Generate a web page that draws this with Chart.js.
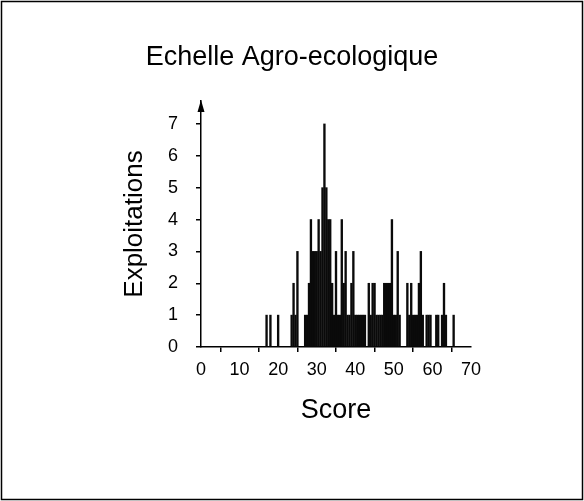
<!DOCTYPE html>
<html>
<head>
<meta charset="utf-8">
<script src="https://cdn.jsdelivr.net/npm/chart.js@4/dist/chart.umd.min.js"></script>
<style>
	body { margin: 0; background: #fff; }
	canvas { display: block; }
</style>
</head>
<body>
<canvas id="chart" width="584" height="501"></canvas>
<script>
//======================================================================================================
// Data: score (x) and number of farms (y)
//======================================================================================================
var scores = [17, 18, 20, 23.5, 24, 24.5, 25, 27, 27.5, 28, 28.5, 29, 29.5, 30, 30.5, 31, 31.5, 32, 32.5, 33,
	33.5, 34, 34.5, 35, 35.5, 36, 36.5, 37, 37.5, 38, 38.5, 39, 39.5, 40, 40.5, 41, 41.5, 42, 42.5,
	43.5, 44, 44.5, 45, 45.5, 46, 46.5, 47, 47.5, 48, 48.5, 49, 49.5, 50, 50.5, 51, 51.5,
	53.5, 54, 54.5, 55, 55.5, 56, 56.5, 57, 57.5, 58.5, 59, 59.5, 61, 61.5, 62.5, 63, 63.5, 65.5];
var counts = [1, 1, 1, 1, 2, 1, 3, 1, 1, 2, 4, 3, 3, 3, 4, 3, 5, 7, 5, 4,
	4, 2, 1, 3, 1, 1, 4, 2, 3, 1, 1, 2, 3, 1, 1, 1, 1, 1, 1,
	2, 1, 2, 2, 1, 1, 1, 1, 2, 2, 2, 2, 4, 1, 1, 3, 1,
	2, 1, 2, 1, 1, 1, 2, 3, 1, 1, 1, 1, 1, 1, 1, 2, 1, 1];
var xTicks = [0, 10, 20, 30, 40, 50, 60, 70];
var yTicks = [0, 1, 2, 3, 4, 5, 6, 7];

var FONT = "'Liberation Sans', Arial, sans-serif";

// Arrow on top of the y axis and the frame round the picture
var decorPlugin = {
	id: 'decor',
	afterDraw: function(chart) {
		var ctx = chart.ctx;
		var a = chart.chartArea;
		ctx.save();
		ctx.fillStyle = '#000';
		ctx.beginPath();
		ctx.moveTo(a.left, a.top - 1);
		ctx.lineTo(a.left - 3.5, a.top + 11);
		ctx.lineTo(a.left + 3.5, a.top + 11);
		ctx.closePath();
		ctx.fill();
		ctx.strokeStyle = '#000';
		ctx.lineWidth = 1.5;
		ctx.strokeRect(1.5, 1.5, chart.width - 3, chart.height - 3);
		ctx.restore();
	}
};

var points = scores.map(function(s, i) { return {x: s, y: counts[i]}; });

new Chart(document.getElementById('chart'), {
	type: 'bar',
	data: {
		datasets: [{
			data: points,
			backgroundColor: '#0a0a0a',
			borderWidth: 0,
			barThickness: 1.7
		}]
	},
	options: {
		responsive: false,
		animation: false,
		layout: { padding: 0 },
		plugins: {
			legend: { display: false },
			tooltip: { enabled: false },
			title: {
				display: true,
				text: 'Echelle Agro-ecologique',
				color: '#000',
				font: { family: FONT, size: 27, weight: 'normal', lineHeight: 1.2 },
				padding: { top: 41.8, bottom: 26.8 }
			}
		},
		scales: {
			x: {
				type: 'linear',
				min: 0,
				max: 70,
				offset: false,
				afterBuildTicks: function(s) { s.ticks = xTicks.map(function(v) { return {value: v}; }); },
				afterFit: function(s) { s.height = 154; },
				ticks: { color: '#000', padding: 7, maxRotation: 0, font: { family: FONT, size: 18 } },
				grid: { drawOnChartArea: false, tickLength: 5, color: '#000', lineWidth: 1.5 },
				border: { color: '#000', width: 1.5 },
				title: {
					display: true,
					text: 'Score',
					color: '#000',
					font: { family: FONT, size: 27, lineHeight: 1.2 },
					padding: { top: 0, bottom: 74 }
				}
			},
			y: {
				min: 0,
				max: 7.72,
				afterBuildTicks: function(s) { s.ticks = yTicks.map(function(v) { return {value: v}; }); },
				afterFit: function(s) { s.width = 201; },
				ticks: { color: '#000', padding: 18, font: { family: FONT, size: 18 } },
				grid: { drawOnChartArea: false, tickLength: 5, color: '#000', lineWidth: 1.5 },
				border: { color: '#000', width: 1.5 },
				title: {
					display: true,
					text: 'Exploitations',
					color: '#000',
					font: { family: FONT, size: 26, lineHeight: 1.2 },
					padding: { top: 119, bottom: 0 }
				}
			},
			// empty scale on the right, only there to keep the blank margin
			yRight: {
				position: 'right',
				min: 0,
				max: 1,
				afterFit: function(s) { s.width = 113; },
				ticks: { display: false },
				grid: { display: false },
				border: { display: false }
			}
		}
	},
	plugins: [decorPlugin]
});
</script>
</body>
</html>
